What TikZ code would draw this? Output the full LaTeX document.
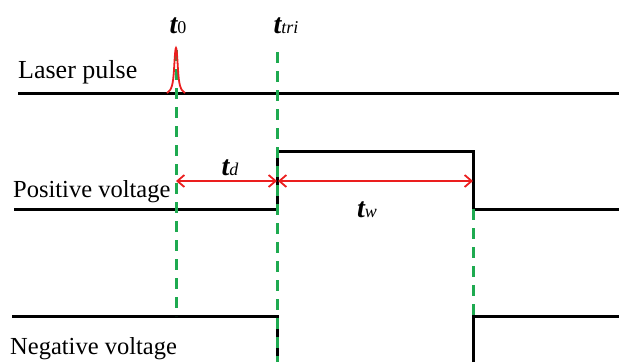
\documentclass[tikz,border=0pt]{standalone}
\usepackage{fontspec}
\setmainfont{Liberation Serif}
\usetikzlibrary{arrows.meta}
\definecolor{gdash}{RGB}{30,170,80}
\definecolor{rline}{RGB}{235,30,30}
\begin{document}
\begin{tikzpicture}[x=1pt,y=-1pt,
  sig/.style={line width=3pt,black},
  gline/.style={gdash,line width=3pt,dash pattern=on 11pt off 8pt},
  dimarrow/.style={rline,line width=1.8pt,{Straight Barb[length=7pt,width=12pt]}-{Straight Barb[length=7pt,width=12pt]}},
  lbl/.style={font=\fontsize{24.5}{26}\selectfont,inner sep=0pt,anchor=base west},
  tlbl/.style={inner sep=0pt,anchor=base}]
\useasboundingbox (0,0) rectangle (619,362);
% coordinates
\coordinate (l0) at (18,93);
\coordinate (l1) at (619,93);
\coordinate (p0) at (14,209);
\coordinate (p1) at (277,209);
\coordinate (p2) at (277,151);
\coordinate (p3) at (473,151);
\coordinate (p4) at (473,209);
\coordinate (p5) at (619,209);
\coordinate (n0) at (12,316);
\coordinate (n1) at (277,316);
\coordinate (n2) at (277,362);
\coordinate (n3) at (473,362);
\coordinate (n4) at (473,316);
\coordinate (n5) at (619,316);
\coordinate (g1a) at (176,50);
\coordinate (g1b) at (176,316);
\coordinate (g2a) at (277,52);
\coordinate (g2b) at (277,362);
\coordinate (g3a) at (473,209);
\coordinate (g3b) at (473,316);
% signals
\draw[sig] (l0) -- (l1);
\draw[sig] (p0) -- (p1) -- (p2) -- (p3) -- (p4) -- (p5);
\draw[sig] (n0) -- (n1) -- (n2);
\draw[sig] (n3) -- (n4) -- (n5);
% green dashed
\draw[gline] (g1a) -- (g1b);
\draw[gline] (g2a) -- (g2b);
\draw[gline] (g3a) -- (g3b);
% laser pulse
\draw[rline,line width=1.8pt] (167,93) .. controls (172,90) and (173,84) .. (174,70)
  .. controls (175,52) and (175.5,48) .. (176,48)
  .. controls (176.5,48) and (177,52) .. (178,70)
  .. controls (179,84) and (180,90) .. (185,93);
% arrows
\coordinate (a1) at (176,181);
\coordinate (a2) at (277,181);
\coordinate (a3) at (473,181);
\draw[dimarrow] (a1) -- (a2);
\draw[dimarrow] ([xshift=1pt]a2) -- (a3);
% labels
\node[lbl,font=\fontsize{26}{28}\selectfont] (laser) at (18,78) {Laser pulse};
\node[lbl] (pos) at (13,197) {Positive voltage};
\node[lbl] (neg) at (10,354) {Negative voltage};
\node[tlbl] (t0) at (178,33) {\fontsize{28}{30}\selectfont\bfseries\itshape t\fontsize{18}{20}\selectfont\mdseries\upshape 0};
\node[tlbl] (ttri) at (286,33) {\fontsize{28}{30}\selectfont\bfseries\itshape t\fontsize{18}{20}\selectfont\mdseries tri};
\node[tlbl] (td) at (230,175) {\fontsize{28}{30}\selectfont\bfseries\itshape t\fontsize{18}{20}\selectfont\mdseries d};
\node[tlbl] (tw) at (367,217) {\fontsize{28}{30}\selectfont\bfseries\itshape t\fontsize{18}{20}\selectfont\mdseries w};
\end{tikzpicture}
\end{document}
